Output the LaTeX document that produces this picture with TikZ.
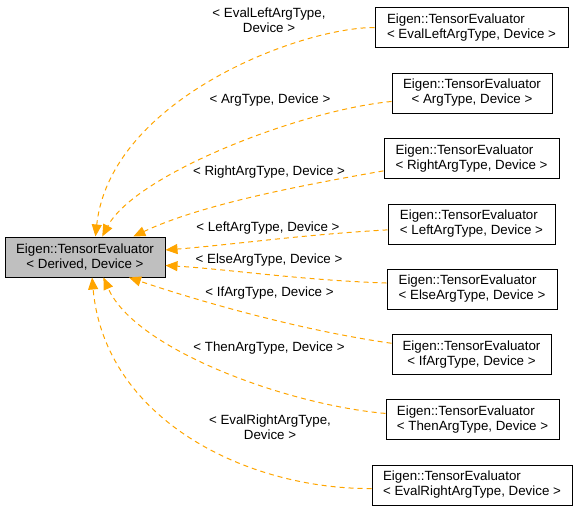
\documentclass[tikz,border=0pt]{standalone}
\usepackage{fontspec}
\setmainfont{Liberation Sans}
\usetikzlibrary{arrows.meta}
\definecolor{dxorange}{HTML}{FFA500}
\definecolor{dxgrey}{HTML}{BFBFBF}
\begin{document}
\begin{tikzpicture}
		    [%%%%%%%%%%%%%%%%%%%%%%%%%%%%%%
		        x=0.75pt, y=-0.75pt,
		        box/.style={rectangle,draw=black,line width=0.75pt,minimum height=30pt,inner sep=2pt,font=\fontsize{10}{11.25}\selectfont},
		        lbl/.style={align=center,inner sep=0pt,font=\fontsize{10}{11.25}\selectfont},
		        edge/.style={draw=dxorange,line width=0.75pt,dash pattern=on 3.75pt off 3pt,-{Triangle[length=9pt,width=7.5pt]}},
		    ]%%%%%%%%%%%%%%%%%%%%%%%%%%%%%%
		\useasboundingbox (0,0) rectangle (579,511);
		\node[box, fill=dxgrey, align=center, minimum width=120pt] (derived) at (85,257) {Eigen::TensorEvaluator\\< Derived, Device >};
		\node[box, align=left, minimum width=144.75pt] (evalleft) at (471.5,27.5) {Eigen::TensorEvaluator\\< EvalLeftArgType, Device >};
		\node[box, align=center, minimum width=120pt] (arg) at (472,93) {Eigen::TensorEvaluator\\< ArgType, Device >};
		\node[box, align=left, minimum width=131.25pt] (rightarg) at (471.5,158.5) {Eigen::TensorEvaluator\\< RightArgType, Device >};
		\node[box, align=left, minimum width=125.25pt] (leftarg) at (471.5,224) {Eigen::TensorEvaluator\\< LeftArgType, Device >};
		\node[box, align=left, minimum width=127.5pt] (elsearg) at (472,289) {Eigen::TensorEvaluator\\< ElseArgType, Device >};
		\node[box, align=center, minimum width=119.25pt] (ifarg) at (471.5,354.5) {Eigen::TensorEvaluator\\< IfArgType, Device >};
		\node[box, align=left, minimum width=129.75pt] (thenarg) at (472.5,419.5) {Eigen::TensorEvaluator\\< ThenArgType, Device >};
		\node[box, align=left, minimum width=150pt] (evalright) at (472,485) {Eigen::TensorEvaluator\\< EvalRightArgType, Device >};
		\node[lbl] (lblevalleft) at (269,20) {< EvalLeftArgType,\\Device >};
		\node[lbl] (lblarg) at (270,100.5) {< ArgType, Device >};
		\node[lbl] (lblrightarg) at (269,172.5) {< RightArgType, Device >};
		\node[lbl] (lblleftarg) at (268,228.5) {< LeftArgType, Device >};
		\node[lbl] (lblelsearg) at (269,260.5) {< ElseArgType, Device >};
		\node[lbl] (lblifarg) at (269.5,293.5) {< IfArgType, Device >};
		\node[lbl] (lblthenarg) at (269,348.5) {< ThenArgType, Device >};
		\node[lbl] (lblevalright) at (270,427.5) {< EvalRightArgType,\\Device >};
		\draw[edge] (evalleft.west) .. controls +(-75,0) and +(15,-137) .. (derived.63);
		\draw[edge] (arg.186) .. controls +(-92,9) and +(33,-62) .. (derived.50);
		\draw[edge] (rightarg.188) .. controls +(-85,15) and +(68,-32) .. (derived.23);
		\draw[edge] (leftarg.184) .. controls +(-88,5) and +(65,-5) .. (derived.5);
		\draw[edge] (elsearg.176) .. controls +(-87,-3) and +(65,4) .. (derived.354);
		\draw[edge] (ifarg.172) .. controls +(-92,-13) and +(68,23) .. (derived.335);
		\draw[edge] (thenarg.176) .. controls +(-95,-8) and +(32,73) .. (derived.312);
		\draw[edge] (evalright.182) .. controls +(-123,1) and +(13,143) .. (derived.289);
		\end{tikzpicture}
\end{document}
